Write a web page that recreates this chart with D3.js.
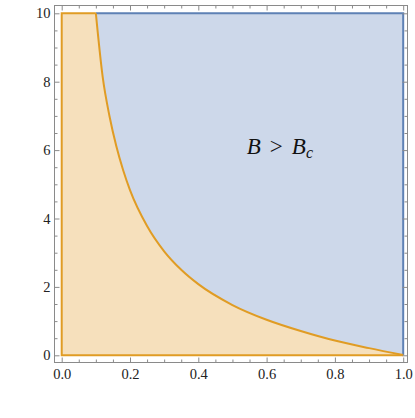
<!DOCTYPE html>
<html><head><meta charset="utf-8">
<script src="https://cdn.jsdelivr.net/npm/d3@7"></script>
<style>body{margin:0;background:#fff}svg{display:block}</style>
</head><body><svg id="c" width="415" height="418"></svg>
<script>
// boundary curve B = Bc
const curveX = [0.100, 0.120, 0.140, 0.160, 0.180, 0.200, 0.250, 0.300, 0.350, 0.400, 0.500, 0.600, 0.700, 0.800, 0.900, 1.000];
const curveY = [10.0, 8.14, 6.99, 6.11, 5.41, 4.83, 3.78, 3.04, 2.50, 2.08, 1.47, 1.04, 0.71, 0.43, 0.21, 0.01];
const xTicks = [0.0, 0.2, 0.4, 0.6, 0.8, 1.0];
const xTickLabels = ["0.0", "0.2", "0.4", "0.6", "0.8", "1.0"];
const yTicks = [0, 2, 4, 6, 8, 10];
const yTickLabels = ["0", "2", "4", "6", "8", "10"];
const xDomain = [0, 1], yDomain = [0, 10];

const svg = d3.select("#c");
const x = d3.scaleLinear().domain(xDomain).range([61.7, 403.2]);
const y = d3.scaleLinear().domain(yDomain).range([355.3, 13.3]);
const frame = {l: 54.5, r: 407.5, t: 5.5, b: 362.5};

const orange = "#e09c24", blue = "#5e81b5";
const orangeFill = "#f6e0bc", blueFill = "#cdd8ea";
const serif = "Liberation Serif";
const pts = curveX.map((d, i) => [d, curveY[i]]);

const line = d3.line().x(d => x(d[0])).y(d => y(d[1])).curve(d3.curveMonotoneX);

// blue region
svg.append("path")
  .attr("d", line(pts) + `L${x(1)},${y(10)}Z`)
  .attr("fill", blueFill);
// orange region
svg.append("path")
  .attr("d", `M${x(0)},${y(0)}L${x(0)},${y(10)}L${x(curveX[0])},${y(10)}` + line(pts).replace(/^M/, "L") + "Z")
  .attr("fill", orangeFill);

// borders
svg.append("path").attr("d", `M${x(curveX[0])},${y(10)}L${x(1)},${y(10)}L${x(1)},${y(0)}`)
  .attr("fill", "none").attr("stroke", blue).attr("stroke-width", 2);
svg.append("path").attr("d", `M${x(1)},${y(0)}L${x(0)},${y(0)}L${x(0)},${y(10)}L${x(curveX[0])},${y(10)}`)
  .attr("fill", "none").attr("stroke", orange).attr("stroke-width", 2);
svg.append("path").attr("d", line(pts))
  .attr("fill", "none").attr("stroke", orange).attr("stroke-width", 2);

// frame with ticks
const frameColor = "#8a8a8a";
const xMinor = d3.range(0, 1.0001, 0.05).map(v => +v.toFixed(2)).filter(v => !xTicks.some(t => Math.abs(t - v) < 1e-6));
const yMinor = d3.range(0, 10.0001, 0.5).filter(v => !yTicks.includes(v));

function styleAxis(g) {
  g.attr("font-family", serif);
  g.select(".domain").remove();
  g.selectAll("line").attr("stroke", frameColor).attr("stroke-width", 1);
  g.selectAll("text").attr("font-family", serif).attr("font-size", 14.5).attr("fill", "#222");
}
// bottom
svg.append("g").attr("transform", `translate(0,${frame.b})`)
  .call(d3.axisBottom(x).tickValues(xTicks).tickFormat((d, i) => xTickLabels[i]).tickSizeInner(-5).tickSizeOuter(0).tickPadding(6))
  .call(styleAxis);
svg.append("g").attr("transform", `translate(0,${frame.b})`)
  .call(d3.axisBottom(x).tickValues(xMinor).tickFormat("").tickSizeInner(-3).tickSizeOuter(0)).call(styleAxis);
// top
svg.append("g").attr("transform", `translate(0,${frame.t})`)
  .call(d3.axisTop(x).tickValues(xTicks).tickFormat("").tickSizeInner(-5).tickSizeOuter(0)).call(styleAxis);
svg.append("g").attr("transform", `translate(0,${frame.t})`)
  .call(d3.axisTop(x).tickValues(xMinor).tickFormat("").tickSizeInner(-3).tickSizeOuter(0)).call(styleAxis);
// left
svg.append("g").attr("transform", `translate(${frame.l},0)`)
  .call(d3.axisLeft(y).tickValues(yTicks).tickFormat((d, i) => yTickLabels[i]).tickSizeInner(-5).tickSizeOuter(0).tickPadding(4))
  .call(styleAxis);
svg.append("g").attr("transform", `translate(${frame.l},0)`)
  .call(d3.axisLeft(y).tickValues(yMinor).tickFormat("").tickSizeInner(-3).tickSizeOuter(0)).call(styleAxis);
// right
svg.append("g").attr("transform", `translate(${frame.r},0)`)
  .call(d3.axisRight(y).tickValues(yTicks).tickFormat("").tickSizeInner(-5).tickSizeOuter(0)).call(styleAxis);
svg.append("g").attr("transform", `translate(${frame.r},0)`)
  .call(d3.axisRight(y).tickValues(yMinor).tickFormat("").tickSizeInner(-3).tickSizeOuter(0)).call(styleAxis);

svg.append("rect").attr("x", frame.l).attr("y", frame.t)
  .attr("width", frame.r - frame.l).attr("height", frame.b - frame.t)
  .attr("fill", "none").attr("stroke", frameColor).attr("stroke-width", 1);

// label
const lab = svg.append("text").attr("x", x(0.542)).attr("y", y(5.9))
  .attr("font-family", serif).attr("font-size", 23).attr("fill", "#111");
lab.append("tspan").attr("font-style", "italic").text("B");
lab.append("tspan").attr("dx", 9).text(">");
lab.append("tspan").attr("dx", 9).attr("font-style", "italic").text("B");
lab.append("tspan").attr("font-style", "italic").attr("font-size", 16).attr("dy", 4).text("c");
</script></body></html>
